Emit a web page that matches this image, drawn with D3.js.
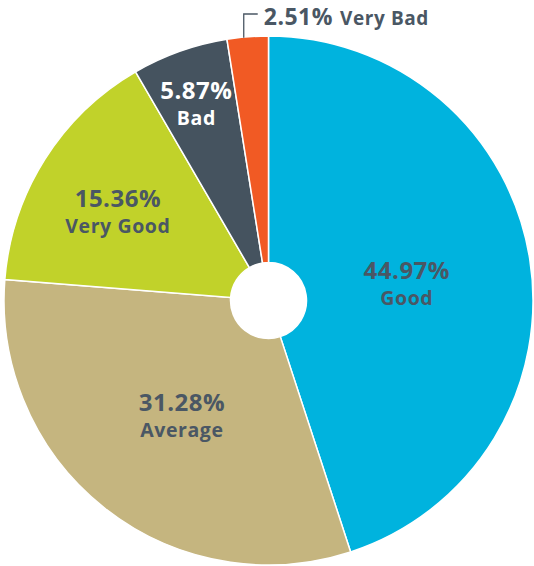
<!DOCTYPE html>
<html>
<head>
<meta charset="utf-8">
<script src="https://cdn.jsdelivr.net/npm/d3@7"></script>
<style>
  html, body { margin: 0; padding: 0; background: #fff; }
  svg { display: block; }
</style>
</head>
<body>
<script>
const WIDTH = 534;
const HEIGHT = 566;
const CENTER = { x: 268.5, y: 300.5 };
const OUTER = 264.5;
const INNER = 38;

// data, clockwise from 12 o'clock
const categories = ["Good", "Average", "Very Good", "Bad", "Very Bad"];
const shares = [44.97, 31.28, 15.36, 5.87, 2.51];
const colors = ["#00b3de", "#c5b57f", "#c1d22a", "#45535f", "#f15a24"];
const labelColors = ["#4a5764", "#4a5764", "#4a5764", "#ffffff", "#4a5764"];

const data = categories.map((name, i) => ({ name, value: shares[i], color: colors[i], text: labelColors[i] }));

const pie = d3.pie().sort(null).value(d => d.value);
const arc = d3.arc().innerRadius(INNER).outerRadius(OUTER);

// thin slices get their labels pushed further out
const labelRadius = d3.scaleLinear()
  .domain([5.87, 15.36, 31.28])
  .range([215, 178, 140])
  .clamp(true);

const svg = d3.select("body").append("svg")
  .attr("width", WIDTH)
  .attr("height", HEIGHT);

const g = svg.append("g")
  .attr("transform", `translate(${CENTER.x},${CENTER.y})`);

const arcs = pie(data);

g.selectAll("path")
  .data(arcs)
  .join("path")
    .attr("d", arc)
    .attr("fill", d => d.data.color)
    .attr("stroke", "#fff")
    .attr("stroke-width", 1.5);

const fmt = v => d3.format(".2f")(v) + "%";
const FONT = "'Open Sans', 'DejaVu Sans', sans-serif";

// inside labels
const inside = arcs.filter(d => d.data.value > 5);
const lbl = g.selectAll("g.lbl")
  .data(inside)
  .join("g")
    .attr("class", "lbl")
    .attr("transform", d => {
      const a = (d.startAngle + d.endAngle) / 2;
      const r = labelRadius(d.data.value);
      return `translate(${r * Math.sin(a)},${-r * Math.cos(a)})`;
    })
    .attr("text-anchor", "middle")
    .style("font-family", FONT)
    .attr("fill", d => d.data.text);

lbl.append("text")
  .attr("y", 1)
  .style("font-size", "24px")
  .style("font-weight", 700)
  .style("letter-spacing", "0.5px")
  .text(d => fmt(d.data.value));

lbl.append("text")
  .attr("y", 27)
  .style("font-size", "19.5px")
  .style("font-weight", 700)
  .style("letter-spacing", "0.6px")
  .text(d => d.data.name);

// outside label for the smallest slice
const small = arcs.filter(d => d.data.value <= 5);
small.forEach(d => {
  const a = (d.startAngle + d.endAngle) / 2;
  const px = (OUTER - 1) * Math.sin(a) - 4;
  const py = -(OUTER - 1) * Math.cos(a);
  const topY = -OUTER + 14 - 36;
  g.append("path")
    .attr("d", d3.line()([[px, py], [px, topY], [px + 14, topY]]))
    .attr("fill", "none")
    .attr("stroke", "#4a5764")
    .attr("stroke-width", 1.3);

  const t = g.append("text")
    .attr("x", px + 20)
    .attr("y", topY + 11)
    .style("font-family", FONT)
    .attr("fill", "#4a5764");
  t.append("tspan")
    .style("font-size", "23px")
    .style("font-weight", 700)
    .style("letter-spacing", "0.5px")
    .text(fmt(d.data.value));
  t.append("tspan")
    .attr("dx", 7)
    .style("font-size", "19px")
    .style("font-weight", 700)
    .style("letter-spacing", "0.6px")
    .text(d.data.name);
});
</script>
</body>
</html>
